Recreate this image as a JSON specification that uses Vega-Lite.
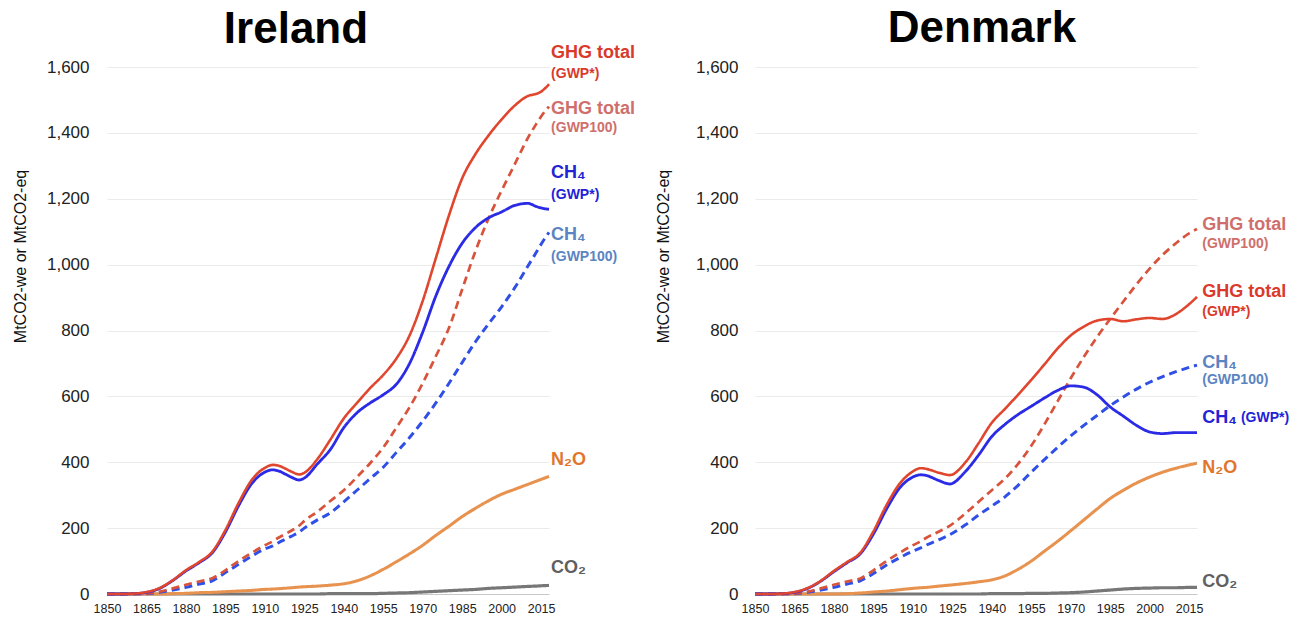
{
  "$schema": "https://vega.github.io/schema/vega-lite/v6.json",
  "background": "white",
  "padding": {"left": 12, "top": 7, "right": 0, "bottom": 0},
  "spacing": 19,
  "config": {
    "view": {"stroke": null},
    "font": "Liberation Sans",
    "title": {"font": "Liberation Sans", "fontSize": 44, "fontWeight": "bold", "color": "#000000", "anchor": "middle"}
  },
  "datasets": {
    "ireland": [
      {"year": 1850, "ghg_star": 0, "ghg_100": 0, "ch4_star": 0, "ch4_100": 0, "n2o": 0, "co2": 0},
      {"year": 1855, "ghg_star": 0, "ghg_100": 0, "ch4_star": 0, "ch4_100": 0, "n2o": 0, "co2": 0},
      {"year": 1860, "ghg_star": 1, "ghg_100": 0, "ch4_star": 1, "ch4_100": 0, "n2o": 0, "co2": 0},
      {"year": 1865, "ghg_star": 6, "ghg_100": 1, "ch4_star": 5, "ch4_100": 1, "n2o": 0, "co2": 0},
      {"year": 1870, "ghg_star": 18, "ghg_100": 7, "ch4_star": 17, "ch4_100": 5, "n2o": 0, "co2": 0},
      {"year": 1875, "ghg_star": 42, "ghg_100": 17, "ch4_star": 41, "ch4_100": 12, "n2o": 1, "co2": 0},
      {"year": 1880, "ghg_star": 72, "ghg_100": 28, "ch4_star": 70, "ch4_100": 20, "n2o": 2, "co2": 0},
      {"year": 1885, "ghg_star": 97, "ghg_100": 38, "ch4_star": 95, "ch4_100": 30, "n2o": 4, "co2": 0},
      {"year": 1890, "ghg_star": 128, "ghg_100": 48, "ch4_star": 125, "ch4_100": 40, "n2o": 5, "co2": 0},
      {"year": 1895, "ghg_star": 194, "ghg_100": 72, "ch4_star": 188, "ch4_100": 65, "n2o": 7, "co2": 0},
      {"year": 1900, "ghg_star": 276, "ghg_100": 100, "ch4_star": 268, "ch4_100": 90, "n2o": 9, "co2": 0},
      {"year": 1905, "ghg_star": 346, "ghg_100": 125, "ch4_star": 335, "ch4_100": 115, "n2o": 11, "co2": 0},
      {"year": 1910, "ghg_star": 383, "ghg_100": 148, "ch4_star": 370, "ch4_100": 137, "n2o": 14, "co2": 0},
      {"year": 1913, "ghg_star": 392, "ghg_100": 160, "ch4_star": 377, "ch4_100": 146, "n2o": 15, "co2": 0},
      {"year": 1915, "ghg_star": 390, "ghg_100": 170, "ch4_star": 374, "ch4_100": 155, "n2o": 16, "co2": 0},
      {"year": 1920, "ghg_star": 372, "ghg_100": 192, "ch4_star": 355, "ch4_100": 175, "n2o": 19, "co2": 0},
      {"year": 1923, "ghg_star": 363, "ghg_100": 207, "ch4_star": 346, "ch4_100": 188, "n2o": 21, "co2": 0},
      {"year": 1925, "ghg_star": 368, "ghg_100": 222, "ch4_star": 352, "ch4_100": 200, "n2o": 22, "co2": 0},
      {"year": 1930, "ghg_star": 410, "ghg_100": 250, "ch4_star": 395, "ch4_100": 225, "n2o": 24, "co2": 0},
      {"year": 1935, "ghg_star": 470, "ghg_100": 283, "ch4_star": 440, "ch4_100": 247, "n2o": 27, "co2": 1},
      {"year": 1940, "ghg_star": 533, "ghg_100": 315, "ch4_star": 505, "ch4_100": 280, "n2o": 31, "co2": 1},
      {"year": 1945, "ghg_star": 580, "ghg_100": 355, "ch4_star": 550, "ch4_100": 315, "n2o": 40, "co2": 1},
      {"year": 1950, "ghg_star": 625, "ghg_100": 397, "ch4_star": 580, "ch4_100": 350, "n2o": 55, "co2": 1},
      {"year": 1955, "ghg_star": 665, "ghg_100": 445, "ch4_star": 605, "ch4_100": 385, "n2o": 75, "co2": 2},
      {"year": 1960, "ghg_star": 715, "ghg_100": 505, "ch4_star": 637, "ch4_100": 430, "n2o": 98, "co2": 3},
      {"year": 1965, "ghg_star": 785, "ghg_100": 567, "ch4_star": 700, "ch4_100": 475, "n2o": 122, "co2": 4},
      {"year": 1970, "ghg_star": 890, "ghg_100": 640, "ch4_star": 795, "ch4_100": 525, "n2o": 148, "co2": 6},
      {"year": 1975, "ghg_star": 1020, "ghg_100": 722, "ch4_star": 905, "ch4_100": 580, "n2o": 178, "co2": 8},
      {"year": 1980, "ghg_star": 1150, "ghg_100": 808, "ch4_star": 995, "ch4_100": 640, "n2o": 206, "co2": 10},
      {"year": 1985, "ghg_star": 1262, "ghg_100": 925, "ch4_star": 1065, "ch4_100": 703, "n2o": 235, "co2": 12},
      {"year": 1990, "ghg_star": 1335, "ghg_100": 1040, "ch4_star": 1112, "ch4_100": 765, "n2o": 260, "co2": 14},
      {"year": 1995, "ghg_star": 1392, "ghg_100": 1140, "ch4_star": 1142, "ch4_100": 820, "n2o": 283, "co2": 17},
      {"year": 2000, "ghg_star": 1441, "ghg_100": 1225, "ch4_star": 1160, "ch4_100": 872, "n2o": 303, "co2": 19},
      {"year": 2005, "ghg_star": 1483, "ghg_100": 1305, "ch4_star": 1180, "ch4_100": 930, "n2o": 318, "co2": 21},
      {"year": 2010, "ghg_star": 1512, "ghg_100": 1385, "ch4_star": 1186, "ch4_100": 996, "n2o": 333, "co2": 23},
      {"year": 2013, "ghg_star": 1518, "ghg_100": 1425, "ch4_star": 1177, "ch4_100": 1035, "n2o": 342, "co2": 24},
      {"year": 2015, "ghg_star": 1525, "ghg_100": 1450, "ch4_star": 1172, "ch4_100": 1062, "n2o": 348, "co2": 25},
      {"year": 2018, "ghg_star": 1548, "ghg_100": 1480, "ch4_star": 1168, "ch4_100": 1098, "n2o": 357, "co2": 26}
    ],
    "denmark": [
      {"year": 1850, "ghg_star": 0, "ghg_100": 0, "ch4_star": 0, "ch4_100": 0, "n2o": 0, "co2": 0},
      {"year": 1855, "ghg_star": 0, "ghg_100": 0, "ch4_star": 0, "ch4_100": 0, "n2o": 0, "co2": 0},
      {"year": 1860, "ghg_star": 1, "ghg_100": 0, "ch4_star": 1, "ch4_100": 0, "n2o": 0, "co2": 0},
      {"year": 1865, "ghg_star": 6, "ghg_100": 1, "ch4_star": 5, "ch4_100": 1, "n2o": 0, "co2": 0},
      {"year": 1870, "ghg_star": 18, "ghg_100": 7, "ch4_star": 17, "ch4_100": 5, "n2o": 0, "co2": 0},
      {"year": 1875, "ghg_star": 40, "ghg_100": 17, "ch4_star": 39, "ch4_100": 12, "n2o": 0, "co2": 0},
      {"year": 1880, "ghg_star": 70, "ghg_100": 28, "ch4_star": 68, "ch4_100": 20, "n2o": 0, "co2": 0},
      {"year": 1885, "ghg_star": 97, "ghg_100": 38, "ch4_star": 95, "ch4_100": 30, "n2o": 1, "co2": 0},
      {"year": 1890, "ghg_star": 125, "ghg_100": 47, "ch4_star": 122, "ch4_100": 40, "n2o": 3, "co2": 0},
      {"year": 1895, "ghg_star": 190, "ghg_100": 72, "ch4_star": 182, "ch4_100": 62, "n2o": 6, "co2": 0},
      {"year": 1900, "ghg_star": 270, "ghg_100": 100, "ch4_star": 258, "ch4_100": 88, "n2o": 9, "co2": 0},
      {"year": 1905, "ghg_star": 335, "ghg_100": 125, "ch4_star": 322, "ch4_100": 110, "n2o": 13, "co2": 0},
      {"year": 1910, "ghg_star": 372, "ghg_100": 148, "ch4_star": 355, "ch4_100": 130, "n2o": 17, "co2": 0},
      {"year": 1913, "ghg_star": 382, "ghg_100": 160, "ch4_star": 362, "ch4_100": 140, "n2o": 19, "co2": 0},
      {"year": 1915, "ghg_star": 380, "ghg_100": 170, "ch4_star": 360, "ch4_100": 148, "n2o": 20, "co2": 0},
      {"year": 1920, "ghg_star": 368, "ghg_100": 190, "ch4_star": 344, "ch4_100": 165, "n2o": 24, "co2": 0},
      {"year": 1924, "ghg_star": 361, "ghg_100": 207, "ch4_star": 334, "ch4_100": 180, "n2o": 27, "co2": 0},
      {"year": 1930, "ghg_star": 400, "ghg_100": 245, "ch4_star": 372, "ch4_100": 210, "n2o": 32, "co2": 0},
      {"year": 1935, "ghg_star": 458, "ghg_100": 280, "ch4_star": 422, "ch4_100": 240, "n2o": 37, "co2": 0},
      {"year": 1940, "ghg_star": 520, "ghg_100": 315, "ch4_star": 478, "ch4_100": 267, "n2o": 43, "co2": 1},
      {"year": 1945, "ghg_star": 562, "ghg_100": 350, "ch4_star": 515, "ch4_100": 295, "n2o": 55, "co2": 1},
      {"year": 1950, "ghg_star": 605, "ghg_100": 395, "ch4_star": 545, "ch4_100": 330, "n2o": 75, "co2": 1},
      {"year": 1955, "ghg_star": 650, "ghg_100": 450, "ch4_star": 570, "ch4_100": 370, "n2o": 100, "co2": 2},
      {"year": 1960, "ghg_star": 697, "ghg_100": 515, "ch4_star": 595, "ch4_100": 408, "n2o": 130, "co2": 2},
      {"year": 1965, "ghg_star": 745, "ghg_100": 585, "ch4_star": 618, "ch4_100": 445, "n2o": 160, "co2": 3},
      {"year": 1970, "ghg_star": 785, "ghg_100": 655, "ch4_star": 632, "ch4_100": 480, "n2o": 192, "co2": 4},
      {"year": 1975, "ghg_star": 812, "ghg_100": 720, "ch4_star": 628, "ch4_100": 512, "n2o": 225, "co2": 6},
      {"year": 1980, "ghg_star": 830, "ghg_100": 780, "ch4_star": 605, "ch4_100": 542, "n2o": 258, "co2": 9},
      {"year": 1985, "ghg_star": 835, "ghg_100": 835, "ch4_star": 568, "ch4_100": 572, "n2o": 290, "co2": 12},
      {"year": 1990, "ghg_star": 828, "ghg_100": 888, "ch4_star": 540, "ch4_100": 598, "n2o": 315, "co2": 15},
      {"year": 1995, "ghg_star": 834, "ghg_100": 940, "ch4_star": 512, "ch4_100": 622, "n2o": 337, "co2": 17},
      {"year": 2000, "ghg_star": 838, "ghg_100": 988, "ch4_star": 492, "ch4_100": 643, "n2o": 355, "co2": 18},
      {"year": 2005, "ghg_star": 835, "ghg_100": 1030, "ch4_star": 487, "ch4_100": 660, "n2o": 370, "co2": 19},
      {"year": 2010, "ghg_star": 850, "ghg_100": 1065, "ch4_star": 490, "ch4_100": 675, "n2o": 382, "co2": 19},
      {"year": 2015, "ghg_star": 880, "ghg_100": 1095, "ch4_star": 490, "ch4_100": 688, "n2o": 392, "co2": 20},
      {"year": 2018, "ghg_star": 902, "ghg_100": 1108, "ch4_star": 490, "ch4_100": 695, "n2o": 397, "co2": 20}
    ],
    "ireland_labels": [
      {"year": 2018.8, "value": 1641, "text": "GHG total", "series": "ghg_star", "part": "main"},
      {"year": 2018.8, "value": 1578, "text": "(GWP*)", "series": "ghg_star", "part": "sub"},
      {"year": 2018.8, "value": 1474, "text": "GHG total", "series": "ghg_100", "part": "main"},
      {"year": 2018.8, "value": 1414, "text": "(GWP100)", "series": "ghg_100", "part": "sub"},
      {"year": 2018.8, "value": 1277, "text": "CH₄", "series": "ch4_star", "part": "main"},
      {"year": 2018.8, "value": 1211, "text": "(GWP*)", "series": "ch4_star", "part": "sub"},
      {"year": 2018.8, "value": 1090, "text": "CH₄", "series": "ch4_100", "part": "main"},
      {"year": 2018.8, "value": 1024, "text": "(GWP100)", "series": "ch4_100", "part": "sub"},
      {"year": 2018.8, "value": 407, "text": "N₂O", "series": "n2o", "part": "main"},
      {"year": 2018.8, "value": 79, "text": "CO₂", "series": "co2", "part": "main"}
    ],
    "denmark_labels": [
      {"year": 2020, "value": 1120, "text": "GHG total", "series": "ghg_100", "part": "main"},
      {"year": 2020, "value": 1062, "text": "(GWP100)", "series": "ghg_100", "part": "sub"},
      {"year": 2020, "value": 918, "text": "GHG total", "series": "ghg_star", "part": "main"},
      {"year": 2020, "value": 857, "text": "(GWP*)", "series": "ghg_star", "part": "sub"},
      {"year": 2020, "value": 701, "text": "CH₄", "series": "ch4_100", "part": "main"},
      {"year": 2020, "value": 650, "text": "(GWP100)", "series": "ch4_100", "part": "sub"},
      {"year": 2020, "value": 534, "text": "CH₄", "series": "ch4_star", "part": "main"},
      {"year": 2034.7, "value": 534, "text": "(GWP*)", "series": "ch4_star", "part": "sub"},
      {"year": 2020, "value": 384, "text": "N₂O", "series": "n2o", "part": "main"},
      {"year": 2020, "value": 35, "text": "CO₂", "series": "co2", "part": "main"}
    ]
  },
  "hconcat": [
    {
      "title": {"text": "Ireland", "dx": -32, "offset": -8},
      "width": 442,
      "height": 527,
      "resolve": {"scale": {"color": "independent"}},
      "layer": [
        {
          "data": {"name": "ireland"},
          "transform": [{"fold": ["co2", "n2o", "ch4_100", "ghg_100", "ch4_star", "ghg_star"], "as": ["series", "value"]}],
          "mark": {"type": "line", "interpolate": "monotone"},
          "encoding": {
            "x": {"field": "year", "type": "quantitative", "scale": {"domain": [1850, 2018], "nice": false, "zero": false},
              "axis": {"title": null, "values": [1850, 1865, 1880, 1895, 1910, 1925, 1940, 1955, 1970, 1985, 2000, 2015], "format": "d", "grid": false, "domain": true, "domainColor": "#c8c8c8", "ticks": false, "tickSize": 0, "labelFontSize": 12.5, "labelColor": "#222222", "labelPadding": 8, "labelOverlap": false, "labelFlush": false, "labelBound": false}},
            "y": {"field": "value", "type": "quantitative", "scale": {"domain": [0, 1600], "nice": false},
              "axis": {"title": "MtCO2-we or MtCO2-eq", "values": [0, 200, 400, 600, 800, 1000, 1200, 1400, 1600], "format": ",d", "grid": true, "gridColor": "#ebebeb", "domain": false, "ticks": false, "tickSize": 0, "labelFontSize": 17, "labelColor": "#222222", "labelPadding": 18, "titleFontSize": 16, "titleFontWeight": "normal", "titleColor": "#111111", "titlePadding": 18, "titleY": 189}},
            "color": {"field": "series", "type": "nominal", "legend": null,
              "scale": {"domain": ["ghg_star", "ghg_100", "ch4_star", "ch4_100", "n2o", "co2"], "range": ["#e0452d", "#d8533b", "#2b2be6", "#2f4fe6", "#e8924f", "#777777"]}},
            "strokeDash": {"field": "series", "type": "nominal", "legend": null,
              "scale": {"domain": ["ghg_star", "ghg_100", "ch4_star", "ch4_100", "n2o", "co2"], "range": [[1, 0], [8, 5], [1, 0], [8, 5], [1, 0], [1, 0]]}},
            "strokeWidth": {"field": "series", "type": "nominal", "legend": null,
              "scale": {"domain": ["ghg_star", "ghg_100", "ch4_star", "ch4_100", "n2o", "co2"], "range": [2.6, 3.2, 2.6, 3.2, 2.2, 2.4]}}
          }
        },
        {
          "data": {"name": "ireland_labels"},
          "transform": [{"filter": "datum.part == 'main'"}],
          "mark": {"type": "text", "align": "left", "baseline": "middle", "fontSize": 18, "fontWeight": "bold"},
          "encoding": {
            "x": {"field": "year", "type": "quantitative", "scale": {"domain": [1850, 2018], "nice": false, "zero": false}},
            "y": {"field": "value", "type": "quantitative", "scale": {"domain": [0, 1600], "nice": false}},
            "text": {"field": "text"},
            "color": {"field": "series", "type": "nominal", "legend": null,
              "scale": {"domain": ["ghg_star", "ghg_100", "ch4_star", "ch4_100", "n2o", "co2"], "range": ["#d93a2b", "#cf6f6c", "#2323d6", "#5b84c2", "#e0762c", "#606060"]}}
          }
        },
        {
          "data": {"name": "ireland_labels"},
          "transform": [{"filter": "datum.part == 'sub'"}],
          "mark": {"type": "text", "align": "left", "baseline": "middle", "fontSize": 14, "fontWeight": "bold"},
          "encoding": {
            "x": {"field": "year", "type": "quantitative", "scale": {"domain": [1850, 2018], "nice": false, "zero": false}},
            "y": {"field": "value", "type": "quantitative", "scale": {"domain": [0, 1600], "nice": false}},
            "text": {"field": "text"},
            "color": {"field": "series", "type": "nominal", "legend": null,
              "scale": {"domain": ["ghg_star", "ghg_100", "ch4_star", "ch4_100", "n2o", "co2"], "range": ["#d93a2b", "#cf6f6c", "#2323d6", "#5b84c2", "#e0762c", "#606060"]}}
          }
        }
      ]
    },
    {
      "title": {"text": "Denmark", "dx": 6, "offset": 7},
      "width": 442,
      "height": 527,
      "resolve": {"scale": {"color": "independent"}},
      "layer": [
        {
          "data": {"name": "denmark"},
          "transform": [{"fold": ["co2", "n2o", "ch4_100", "ghg_100", "ch4_star", "ghg_star"], "as": ["series", "value"]}],
          "mark": {"type": "line", "interpolate": "monotone"},
          "encoding": {
            "x": {"field": "year", "type": "quantitative", "scale": {"domain": [1850, 2018], "nice": false, "zero": false},
              "axis": {"title": null, "values": [1850, 1865, 1880, 1895, 1910, 1925, 1940, 1955, 1970, 1985, 2000, 2015], "format": "d", "grid": false, "domain": true, "domainColor": "#c8c8c8", "ticks": false, "tickSize": 0, "labelFontSize": 12.5, "labelColor": "#222222", "labelPadding": 8, "labelOverlap": false, "labelFlush": false, "labelBound": false}},
            "y": {"field": "value", "type": "quantitative", "scale": {"domain": [0, 1600], "nice": false},
              "axis": {"title": "MtCO2-we or MtCO2-eq", "values": [0, 200, 400, 600, 800, 1000, 1200, 1400, 1600], "format": ",d", "grid": true, "gridColor": "#ebebeb", "domain": false, "ticks": false, "tickSize": 0, "labelFontSize": 17, "labelColor": "#222222", "labelPadding": 17, "titleFontSize": 16, "titleFontWeight": "normal", "titleColor": "#111111", "titlePadding": 24, "titleY": 189}},
            "color": {"field": "series", "type": "nominal", "legend": null,
              "scale": {"domain": ["ghg_star", "ghg_100", "ch4_star", "ch4_100", "n2o", "co2"], "range": ["#e0452d", "#d8533b", "#2b2be6", "#2f4fe6", "#e8924f", "#777777"]}},
            "strokeDash": {"field": "series", "type": "nominal", "legend": null,
              "scale": {"domain": ["ghg_star", "ghg_100", "ch4_star", "ch4_100", "n2o", "co2"], "range": [[1, 0], [8, 5], [1, 0], [8, 5], [1, 0], [1, 0]]}},
            "strokeWidth": {"field": "series", "type": "nominal", "legend": null,
              "scale": {"domain": ["ghg_star", "ghg_100", "ch4_star", "ch4_100", "n2o", "co2"], "range": [2.6, 3.2, 2.6, 3.2, 2.2, 2.4]}}
          }
        },
        {
          "data": {"name": "denmark_labels"},
          "transform": [{"filter": "datum.part == 'main'"}],
          "mark": {"type": "text", "align": "left", "baseline": "middle", "fontSize": 18, "fontWeight": "bold"},
          "encoding": {
            "x": {"field": "year", "type": "quantitative", "scale": {"domain": [1850, 2018], "nice": false, "zero": false}},
            "y": {"field": "value", "type": "quantitative", "scale": {"domain": [0, 1600], "nice": false}},
            "text": {"field": "text"},
            "color": {"field": "series", "type": "nominal", "legend": null,
              "scale": {"domain": ["ghg_star", "ghg_100", "ch4_star", "ch4_100", "n2o", "co2"], "range": ["#d93a2b", "#cf6f6c", "#2323d6", "#5b84c2", "#e0762c", "#606060"]}}
          }
        },
        {
          "data": {"name": "denmark_labels"},
          "transform": [{"filter": "datum.part == 'sub'"}],
          "mark": {"type": "text", "align": "left", "baseline": "middle", "fontSize": 14, "fontWeight": "bold"},
          "encoding": {
            "x": {"field": "year", "type": "quantitative", "scale": {"domain": [1850, 2018], "nice": false, "zero": false}},
            "y": {"field": "value", "type": "quantitative", "scale": {"domain": [0, 1600], "nice": false}},
            "text": {"field": "text"},
            "color": {"field": "series", "type": "nominal", "legend": null,
              "scale": {"domain": ["ghg_star", "ghg_100", "ch4_star", "ch4_100", "n2o", "co2"], "range": ["#d93a2b", "#cf6f6c", "#2323d6", "#5b84c2", "#e0762c", "#606060"]}}
          }
        }
      ]
    }
  ]
}
